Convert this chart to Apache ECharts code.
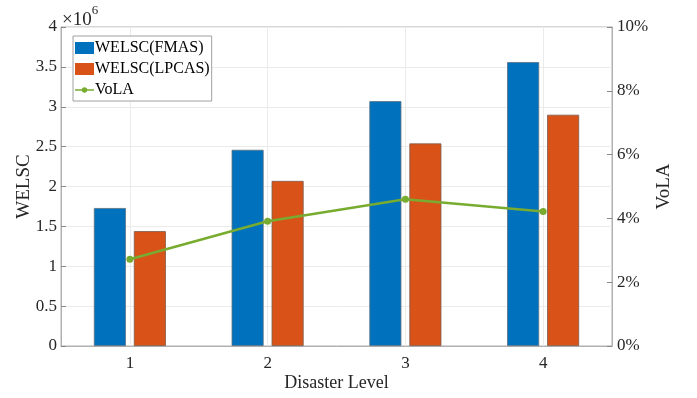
<!DOCTYPE html>
<html><head><meta charset="utf-8">
<script src="https://cdn.jsdelivr.net/npm/echarts@6/dist/echarts.min.js"></script>
<style>html,body{margin:0;padding:0;background:#fff}#c{width:697px;height:398px}</style>
</head><body><div id="c"></div>
<script>
var categories = ['1', '2', '3', '4'];
var welscFMAS = [1.73, 2.46, 3.07, 3.56];
var welscLPCAS = [1.44, 2.07, 2.54, 2.90];
var vola = [2.72, 3.91, 4.60, 4.22];
var leftTicks = [0, 0.5, 1, 1.5, 2, 2.5, 3, 3.5, 4];
var rightTicks = [0, 2, 4, 6, 8, 10];

var FONT = '"Liberation Serif","Times New Roman",serif';
var chart = echarts.init(document.getElementById('c'));
chart.setOption({
  animation: false,
  backgroundColor: '#fff',
  textStyle: {fontFamily: FONT},
  grid: {left: 61, right: 85, top: 27, bottom: 52, outerBoundsMode: 'none', containLabel: false,
         show: true, borderColor: '#b0b0b0', borderWidth: 1, backgroundColor: 'transparent'},
  graphic: [{
    type: 'text', left: 62, top: 4,
    style: {
      text: '{a|×10}{b|6}',
      rich: {
        a: {fontFamily: FONT, fontSize: 19, fill: '#262626', padding: [7,0,0,0]},
        b: {fontFamily: FONT, fontSize: 13, fill: '#262626', verticalAlign: 'top'}
      }
    }
  }],
  legend: {
    left: 73, top: 36, orient: 'vertical',
    itemWidth: 19, itemHeight: 12, itemGap: 5,
    padding: [4, 2, 3, 2],
    borderColor: '#a0a0a0', borderWidth: 1, backgroundColor: '#fff',
    itemStyle: {borderWidth: 0},
    textStyle: {fontFamily: FONT, fontSize: 16, color: '#000', padding: [0,0,0,-4]},
    data: [
      {name: 'WELSC(FMAS)', icon: 'rect'},
      {name: 'WELSC(LPCAS)', icon: 'rect'},
      {name: 'VoLA', icon: 'path://M0,5.3L19,5.3L19,6.7L0,6.7Z M9.5,3.3A2.7,2.7,0,1,1,9.49,3.3Z'}
    ]
  },
  xAxis: {
    type: 'category', data: categories,
    name: 'Disaster Level', nameLocation: 'middle', nameGap: 28, nameMoveOverlap: false,
    nameTextStyle: {fontFamily: FONT, fontSize: 18, color: '#262626'},
    axisLine: {lineStyle: {color: '#b0b0b0'}},
    axisTick: {alignWithLabel: true, inside: true, length: 5, lineStyle: {color: '#888'}},
    axisLabel: {fontFamily: FONT, fontSize: 17, color: '#262626', margin: 9},
    splitLine: {show: true, alignWithLabel: true, lineStyle: {color: '#ebebeb'}}
  },
  yAxis: [{
    type: 'value', min: 0, max: 4, interval: 0.5,
    name: 'WELSC', nameLocation: 'middle', nameGap: 27, nameMoveOverlap: false,
    nameTextStyle: {fontFamily: FONT, fontSize: 19, color: '#262626'},
    axisLine: {show: true, lineStyle: {color: '#b0b0b0'}},
    axisTick: {show: true, inside: true, length: 5, lineStyle: {color: '#888'}},
    axisLabel: {fontFamily: FONT, fontSize: 17, color: '#262626', margin: 4},
    splitLine: {show: true, lineStyle: {color: '#ebebeb'}}
  }, {
    type: 'value', min: 0, max: 10, interval: 2, position: 'right',
    name: 'VoLA', nameLocation: 'middle', nameGap: 43, nameRotate: 90, nameMoveOverlap: false,
    nameTextStyle: {fontFamily: FONT, fontSize: 19, color: '#262626'},
    axisLine: {show: true, lineStyle: {color: '#b0b0b0'}},
    axisTick: {show: true, inside: true, length: 5, lineStyle: {color: '#888'}},
    axisLabel: {fontFamily: FONT, fontSize: 17, color: '#262626', margin: 5, formatter: '{value}%'},
    splitLine: {show: false}
  }],
  series: [{
    name: 'WELSC(FMAS)', type: 'bar', data: welscFMAS, barWidth: 32, barGap: '25%',
    itemStyle: {color: '#0072BD', borderColor: '#5a6f80', borderWidth: 0.8}
  }, {
    name: 'WELSC(LPCAS)', type: 'bar', data: welscLPCAS, barWidth: 32,
    itemStyle: {color: '#D95319', borderColor: '#7a5a4a', borderWidth: 0.8}
  }, {
    name: 'VoLA', type: 'line', yAxisIndex: 1, data: vola,
    symbol: 'circle', symbolSize: 7,
    lineStyle: {color: '#77AC30', width: 2.5},
    itemStyle: {color: '#77AC30'}
  }]
});
</script></body></html>
